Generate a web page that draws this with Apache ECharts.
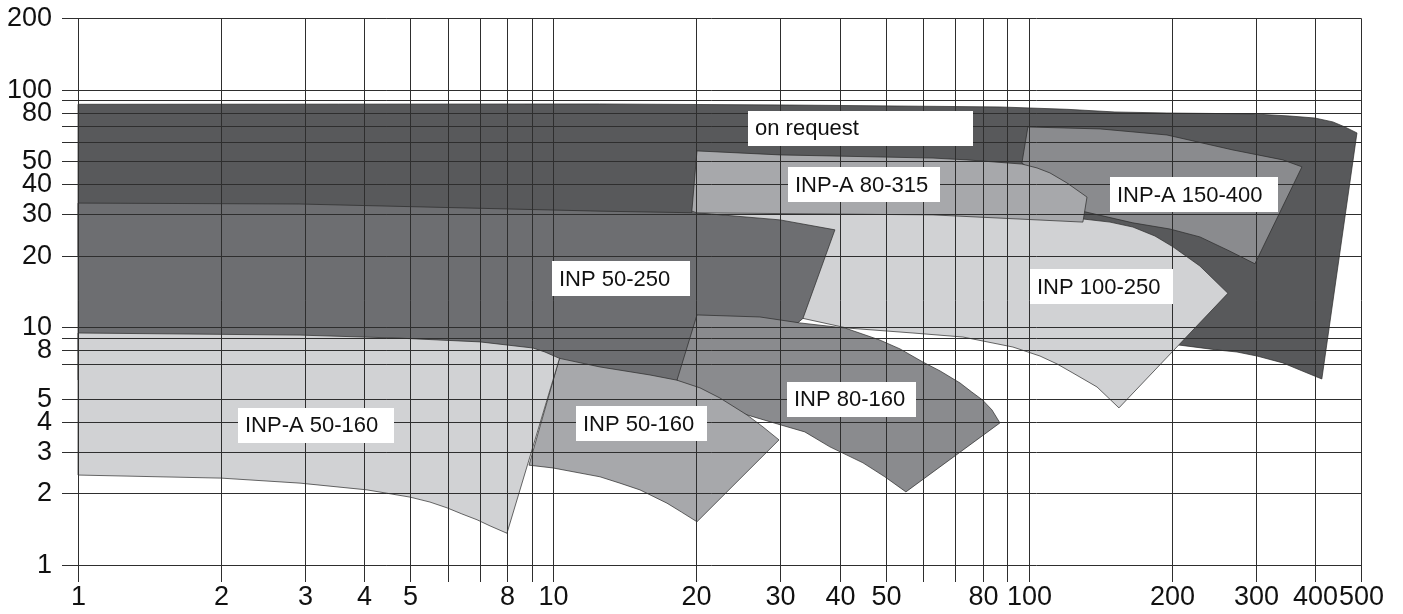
<!DOCTYPE html>
<html>
<head>
<meta charset="utf-8">
<script src="https://cdn.jsdelivr.net/npm/echarts@6/dist/echarts.min.js"></script>
<style>
  html, body { margin: 0; padding: 0; background: #ffffff; }
  #chart { width: 1403px; height: 614px; }
</style>
</head>
<body>
<div id="chart"></div>
<script>
// ---------- axis ranges & tick labels ----------
const xRange = [1, 500];
const yRange = [1, 200];
const xGridValues = [1, 2, 3, 4, 5, 6, 7, 8, 9, 10, 20, 30, 40, 50, 60, 70, 80, 90, 100, 200, 300, 400, 500];
const xTickLabels = [1, 2, 3, 4, 5, 8, 10, 20, 30, 40, 50, 80, 100, 200, 300, 400, 500];
const yGridValues = [1, 2, 3, 4, 5, 7, 8, 9, 10, 20, 30, 40, 50, 60, 70, 80, 90, 100, 200];
const yTickLabels = [1, 2, 3, 4, 5, 8, 10, 20, 30, 40, 50, 80, 100, 200];

// ---------- region outlines (x = flow, y = head) ----------
const onRequest = [[1, 86.7], [12.5, 87.0], [31.4, 86.1], [86.98, 84.5], [120.3, 82.6], [151.8, 80.5], [195.3, 79.7], [296, 79.0], [354.3, 77.4], [399.9, 75.9], [436.4, 73.1], [462.5, 69.6], [490.3, 65.7], [413.6, 6.06], [372, 6.61], [342.5, 7.08], [302, 7.57], [274.2, 7.87], [248.8, 8.03], [206.1, 8.43], [120, 9.0], [40, 20], [1, 20]];
const inp100_250 = [[19.56, 30.8], [62.9, 30.0], [130, 28.55], [148.2, 27.7], [165.6, 26.4], [184.3, 24.2], [201.1, 21.8], [229.1, 18.1], [262.4, 13.9], [154.8, 4.58], [139.2, 5.61], [123.9, 6.42], [114.7, 7.01], [105.6, 7.57], [92.6, 8.26], [72.7, 9.10], [57.07, 9.46], [41.45, 9.93], [33.5, 10.9], [25, 20], [19.56, 25]];
const inp50_250 = [[1, 33.3], [2.93, 33.0], [12.53, 30.8], [20.05, 30.3], [29.97, 28.3], [39.11, 25.7], [33.5, 10.9], [30, 9], [18.2, 5.99], [20, 5], [11, 6.5], [10.3, 7.4], [8, 6], [1, 6]];
const inpA150_400 = [[99.6, 69.6], [141.3, 68.3], [195.3, 64.4], [268.9, 55.7], [342.5, 50.6], [375.6, 47.3], [299.1, 18.5], [265, 20.9], [229.1, 24.0], [198.2, 25.9], [165.6, 27.5], [131.3, 30.6], [96.76, 49.1]];
const inpA80_315 = [[20.05, 55.2], [29.97, 53.1], [62.9, 51.5], [74.1, 50.6], [96.76, 48.6], [104.1, 46.8], [110.8, 44.6], [120.3, 40.5], [132.6, 35.3], [130, 27.7], [62.9, 29.7], [20.05, 30.3], [19.56, 30.8]];
const inp80_160 = [[20.05, 11.27], [27.2, 11.05], [33.02, 10.43], [41.06, 9.93], [48.6, 8.84], [53.6, 8.11], [59.9, 7.14], [65.1, 6.55], [71.7, 5.83], [75.9, 5.34], [79.9, 4.95], [83.7, 4.49], [86.98, 3.96], [55.16, 2.03], [49.8, 2.35], [44.8, 2.69], [38.17, 3.14], [33.8, 3.63], [30.0, 3.89], [25.54, 4.28], [20.35, 5.0], [18.2, 5.99]];
const inp50_160 = [[10.3, 7.4], [12.53, 6.81], [15.97, 6.30], [18.2, 5.99], [20.35, 5.56], [22.41, 5.04], [25.54, 4.28], [27.6, 3.81], [29.83, 3.36], [20.05, 1.52], [18.6, 1.67], [17.34, 1.82], [15.21, 2.07], [13.8, 2.21], [12.53, 2.35], [9.98, 2.56], [8.886, 2.63]];
const inpA50_160 = [[1, 9.46], [2.93, 9.27], [4.756, 9.0], [7.009, 8.68], [9.06, 8.18], [9.6, 7.87], [10.3, 7.4], [7.987, 1.36], [7.36, 1.46], [6.908, 1.55], [6.42, 1.64], [5.973, 1.74], [5.5, 1.84], [4.994, 1.93], [4.055, 2.07], [2.931, 2.21], [2.0, 2.32], [1, 2.39]];

// ---------- region labels (anchor = left / middle of the box) ----------
const labelTexts = ['on request', 'INP-A 80-315', 'INP-A 150-400', 'INP 100-250', 'INP 50-250', 'INP 80-160', 'INP 50-160', 'INP-A 50-160'];
const labelX = [25.67, 31.16, 148.2, 100.6, 9.93, 31.0, 11.16, 2.17];
const labelY = [68.9, 39.7, 36.2, 14.85, 15.97, 4.99, 3.92, 3.88];

// ---------- styles ----------
const C_DARK = '#58595b', C_MD = '#6d6e71', C_MID = '#8a8b8e', C_ML = '#a7a8ab', C_LIGHT = '#d1d2d4';
const regionStyles = [
  { pts: onRequest, fill: C_DARK },
  { pts: inp100_250, fill: C_LIGHT },
  { pts: inp50_250, fill: C_MD },
  { pts: inpA150_400, fill: C_MID },
  { pts: inpA80_315, fill: C_ML },
  { pts: inp80_160, fill: C_MID },
  { pts: inp50_160, fill: C_ML },
  { pts: inpA50_160, fill: C_LIGHT }
];
const labelBoxWidths = [225, 152, 168, 143, 138, 129, 131, 156];
const FONT = '"Liberation Sans", Arial, Helvetica, sans-serif';
const GRID_COLOR = '#2e2e2e';
const TEXT_COLOR = '#111111';

const chart = echarts.init(document.getElementById('chart'), null, { renderer: 'canvas' });

const series = [];
regionStyles.forEach((r, ri) => {
  series.push({
    type: 'custom',
    name: 'region' + ri,
    coordinateSystem: 'cartesian2d',
    clip: false,
    z: 2,
    silent: true,
    data: r.pts,
    encode: { x: 0, y: 1 },
    renderItem: function (params, api) {
      if (params.dataIndex !== 0) return null;
      const points = r.pts.map(p => api.coord(p));
      return {
        type: 'polygon',
        shape: { points: points },
        style: { fill: r.fill, stroke: '#2a2a2a', lineWidth: 0.7, lineJoin: 'miter' }
      };
    }
  });
});

// vertical grid lines + x tick labels
series.push({
  type: 'custom',
  name: 'xgrid',
  coordinateSystem: 'cartesian2d',
  clip: false,
  z: 4,
  silent: true,
  data: xGridValues.map(v => [v, yRange[0]]),
  encode: { x: 0, y: 1 },
  renderItem: function (params, api) {
    const v = api.value(0);
    const top = api.coord([v, yRange[1]]);
    const bot = api.coord([v, yRange[0]]);
    const x = Math.round(top[0]) + 0.5;
    const children = [{
      type: 'line',
      shape: { x1: x, y1: Math.round(top[1]) + 0.5, x2: x, y2: bot[1] + 17 },
      style: { stroke: GRID_COLOR, lineWidth: 1 }
    }];
    if (xTickLabels.indexOf(v) >= 0) {
      children.push({
        type: 'text',
        style: { text: String(v), x: x, y: bot[1] + 33, align: 'center', verticalAlign: 'middle', font: '27px ' + FONT, fill: TEXT_COLOR }
      });
    }
    return { type: 'group', children: children };
  }
});

// horizontal grid lines + y tick labels
series.push({
  type: 'custom',
  name: 'ygrid',
  coordinateSystem: 'cartesian2d',
  clip: false,
  z: 4,
  silent: true,
  data: yGridValues.map(v => [xRange[0], v]),
  encode: { x: 0, y: 1 },
  renderItem: function (params, api) {
    const v = api.value(1);
    const left = api.coord([xRange[0], v]);
    const right = api.coord([xRange[1], v]);
    const y = Math.round(left[1]) + 0.5;
    const children = [{
      type: 'line',
      shape: { x1: left[0] - 16, y1: y, x2: Math.round(right[0]) + 0.5, y2: y },
      style: { stroke: GRID_COLOR, lineWidth: 1 }
    }];
    if (yTickLabels.indexOf(v) >= 0) {
      children.push({
        type: 'text',
        style: { text: String(v), x: left[0] - 26, y: y, align: 'right', verticalAlign: 'middle', font: '27px ' + FONT, fill: TEXT_COLOR }
      });
    }
    return { type: 'group', children: children };
  }
});

// region label boxes
series.push({
  type: 'custom',
  name: 'labels',
  coordinateSystem: 'cartesian2d',
  clip: false,
  z: 6,
  silent: true,
  data: labelX.map((x, i) => [x, labelY[i]]),
  encode: { x: 0, y: 1 },
  renderItem: function (params, api) {
    const i = params.dataIndex;
    const p = api.coord([api.value(0), api.value(1)]);
    const h = 35;
    return {
      type: 'group',
      children: [
        { type: 'rect', shape: { x: Math.round(p[0]), y: Math.round(p[1] - h / 2), width: labelBoxWidths[i], height: h }, style: { fill: '#ffffff' } },
        { type: 'text', style: { text: labelTexts[i], x: Math.round(p[0]) + 7, y: p[1] + 1, align: 'left', verticalAlign: 'middle', font: '22px ' + FONT, fill: TEXT_COLOR } }
      ]
    };
  }
});

chart.setOption({
  animation: false,
  backgroundColor: '#ffffff',
  grid: { left: 78, right: 42, top: 18, bottom: 49, containLabel: false },
  xAxis: {
    type: 'log', logBase: 10, min: xRange[0], max: xRange[1],
    axisLine: { show: false }, axisTick: { show: false }, axisLabel: { show: false }, splitLine: { show: false }
  },
  yAxis: {
    type: 'log', logBase: 10, min: yRange[0], max: yRange[1],
    axisLine: { show: false }, axisTick: { show: false }, axisLabel: { show: false }, splitLine: { show: false }
  },
  series: series
});
</script>
</body>
</html>
